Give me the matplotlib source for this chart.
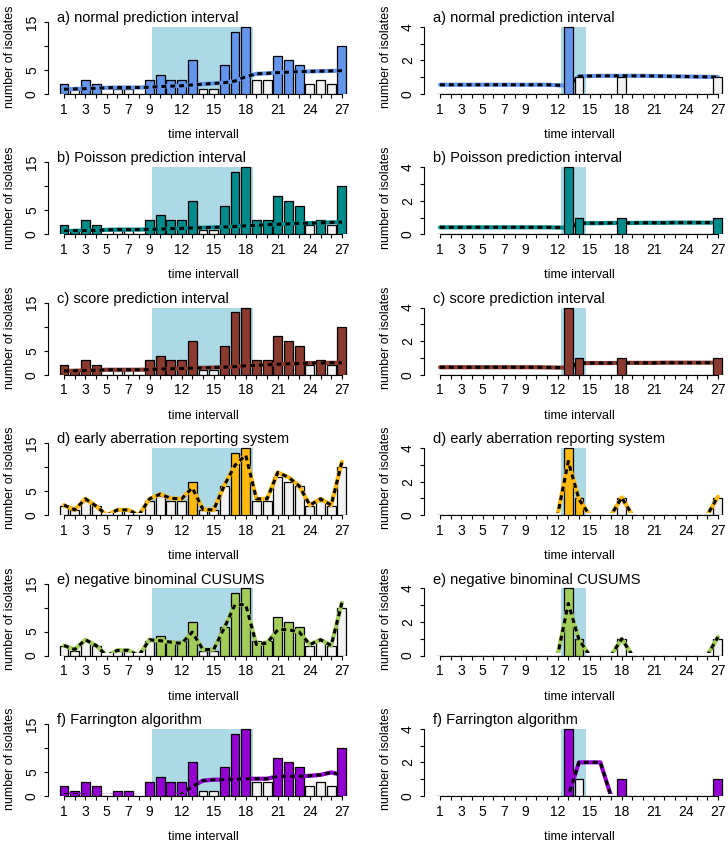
import matplotlib
matplotlib.use("Agg")
import matplotlib.pyplot as plt
from matplotlib.patches import Rectangle

plt.rcParams["font.family"] = ["Liberation Sans", "DejaVu Sans"]

W, H = 728, 843

time = list(range(1, 28))
xtick_labels = [1, 3, 5, 7, 9, 12, 15, 18, 21, 24, 27]

counts_left = [2, 1, 3, 2, 0, 1, 1, 0, 3, 4, 3, 3, 7, 1, 1, 6, 13, 14, 3, 3,
               8, 7, 6, 2, 3, 2, 10]
counts_right = [0, 0, 0, 0, 0, 0, 0, 0, 0, 0, 0, 0, 4, 1, 0, 0, 0, 1, 0, 0,
                0, 0, 0, 0, 0, 0, 1]

titles = ["a) normal prediction interval", "b) Poisson prediction interval",
          "c) score prediction interval", "d) early aberration reporting system",
          "e) negative binominal CUSUMS", "f) Farrington algorithm"]
colours = ["#6495ED", "#008B8B", "#8B3A30", "#FFB90F", "#A2CD5A", "#9400D3"]

# thresholds, left column (outbreak 1)
normal_left = [1.0, 1.05, 1.1, 1.2, 1.3, 1.35, 1.35, 1.35, 1.4, 1.55, 1.65, 1.7,
               1.9, 2.05, 2.2, 2.35, 2.7, 3.6, 4.2, 4.3, 4.45, 4.55, 4.65, 4.7,
               4.75, 4.8, 4.85]
poisson_left = [0.7, 0.75, 0.8, 0.85, 0.95, 1.0, 1.0, 1.0, 1.05, 1.1, 1.2, 1.25,
                1.35, 1.4, 1.45, 1.55, 1.65, 1.8, 1.9, 2.0, 2.1, 2.2, 2.3, 2.35,
                2.4, 2.5, 2.55]
score_left = [0.8, 0.85, 0.9, 0.95, 1.05, 1.05, 1.05, 1.05, 1.1, 1.2, 1.25, 1.3,
              1.4, 1.45, 1.5, 1.6, 1.7, 1.9, 1.95, 2.1, 2.2, 2.3, 2.35, 2.45,
              2.45, 2.5, 2.5]
ears_left = [2.1, 1.1, 3.4, 1.9, 0, 1.1, 1.1, 0, 3.4, 4.4, 3.5, 3.4, 5.7, 1.2,
             1.1, 6.2, 10.4, 12.5, 3.4, 3.4, 8.9, 7.9, 6.1, 2.1, 3.4, 2.1, 11.1]
cusum_left = [2.1, 1.25, 3.3, 2.1, 0, 1.1, 1.1, 0, 3.3, 3.1, 2.8, 2.5, 4.9, 1.25,
              1.25, 5.8, 10.6, 10.6, 2.3, 2.6, 5.4, 5.4, 4.9, 2.3, 3.3, 2.1, 11.0]
farr_left = [0.3, 0.3, 0.2, 0.1, 0, 0.1, 0.1, 0, 0, 0.1, 0, 0.4, 2.0, 3.2, 3.4,
             3.4, 3.5, 3.6, 3.6, 3.6, 4.1, 4.1, 4.1, 4.2, 4.4, 4.9, 4.4]

# thresholds, right column (outbreak 2)
normal_right = [0.55, 0.55, 0.55, 0.55, 0.55, 0.55, 0.55, 0.55, 0.55, 0.55, 0.55,
                0.52, 0.5, 1.05, 1.07, 1.08, 1.08, 1.08, 1.08, 1.08, 1.07, 1.06,
                1.05, 1.04, 1.03, 1.02, 1.01]
poisson_right = [0.42, 0.42, 0.42, 0.42, 0.42, 0.42, 0.42, 0.42, 0.42, 0.42, 0.42,
                 0.41, 0.4, 0.66, 0.67, 0.67, 0.68, 0.68, 0.68, 0.69, 0.69, 0.69,
                 0.7, 0.7, 0.7, 0.7, 0.7]
score_right = [0.45, 0.45, 0.45, 0.45, 0.45, 0.45, 0.45, 0.45, 0.45, 0.45, 0.44,
               0.43, 0.42, 0.69, 0.7, 0.7, 0.7, 0.71, 0.71, 0.71, 0.71, 0.72,
               0.72, 0.72, 0.72, 0.72, 0.72]
ears_right = [0, 0, 0, 0, 0, 0, 0, 0, 0, 0, 0, 0, 3.2, 0.95, 0, 0, 0, 1.05, 0, 0,
              0, 0, 0, 0, 0, 0, 1.1]
cusum_right = [0, 0, 0, 0, 0, 0, 0, 0, 0, 0, 0, 0, 3.1, 0.95, 0, 0, 0, 1.0, 0, 0,
               0, 0, 0, 0, 0, 0, 1.1]
farr_right = [0, 0, 0, 0, 0, 0, 0, 0, 0, 0, 0, 0, 0, 2.0, 2.0, 2.0, 0, 0, 0, 0,
              0, 0, 0, 0, 0, 0, 0]

# time points flagged as alarms (coloured bars)
alarms_left = [
    [1, 3, 4, 9, 10, 11, 12, 13, 16, 17, 18, 21, 22, 23, 27],
    [1, 2, 3, 4, 9, 10, 11, 12, 13, 16, 17, 18, 19, 20, 21, 22, 23, 25, 27],
    [1, 2, 3, 4, 9, 10, 11, 12, 13, 16, 17, 18, 19, 20, 21, 22, 23, 25, 27],
    [13, 17, 18],
    [10, 11, 12, 13, 16, 17, 18, 19, 20, 21, 22, 23],
    [1, 2, 3, 4, 6, 7, 9, 10, 11, 12, 13, 16, 17, 18, 21, 22, 23, 27],
]
alarms_right = [[13], [13, 14, 18, 27], [13, 14, 18, 27], [13, 14], [13, 14],
                [13, 18, 27]]

thr_left = [normal_left, poisson_left, score_left, ears_left, cusum_left, farr_left]
thr_right = [normal_right, poisson_right, score_right, ears_right, cusum_right,
             farr_right]

outbreak_left = (9.2, 18.7)
outbreak_right = (12.3, 14.66)

AX_W, AX_H = 311, 74


def fx(px):
    return px / W


def fy(px):
    return 1 - px / H


def panel(fig, x0, zero_y, counts, thr, alarms, colour, title, span,
          yticks, ylabs, ytop, lines_on_top=True):
    ax = fig.add_axes([fx(x0), fy(zero_y), AX_W / W, AX_H / H])
    ax.set_xlim(-0.5, 28.6)
    ax.set_ylim(0, ytop)
    top = max(counts)
    ax.fill_between(list(span), 0, top, color="#ADD8E6", lw=0, zorder=1)
    cols = [colour if t in alarms else "#F2F2F2" for t in time]
    ax.bar(time, counts, width=0.833, color=cols, edgecolor="black",
           linewidth=0.9, zorder=3)
    z = 4 if lines_on_top else 2
    # lines sitting on zero disappear under the axis, as in the original
    clip = Rectangle((0, 2.2 / AX_H), 1, 1, transform=ax.transAxes)
    l1, = ax.plot(time, thr, color=colour, lw=3.0, zorder=z,
                  solid_capstyle="round")
    l2, = ax.plot(time, thr, color="black", lw=2.2, dashes=(1.6, 1.3),
                  zorder=z + 0.1)
    l1.set_clip_path(clip)
    l2.set_clip_path(clip)

    for s in ("top", "right"):
        ax.spines[s].set_visible(False)
    ax.spines["left"].set_bounds(yticks[0], yticks[-1])
    ax.spines["bottom"].set_bounds(1, 27)
    ax.spines["left"].set_linewidth(0.8)
    ax.spines["bottom"].set_linewidth(0.8)

    ax.set_xticks(time, labels=[str(t) if t in xtick_labels else "" for t in time])
    ax.set_yticks(yticks, labels=ylabs)
    ax.tick_params(axis="x", length=3.2, width=0.8, labelsize=10, pad=3)
    ax.tick_params(axis="y", length=3.2, width=0.8, labelsize=10, pad=3.3)
    for lab in ax.get_yticklabels():
        lab.set_rotation(90)
        lab.set_va("center")

    fig.text(fx(x0 + 9), fy(zero_y - 76), title, fontsize=10.5, ha="left",
             va="center")
    fig.text(fx(x0 + 155), fy(zero_y + 41), "time intervall", fontsize=9,
             ha="center", va="center")
    fig.text(fx(x0 - 38), fy(zero_y - 37), "number of isolates", fontsize=9,
             ha="center", va="center", rotation=90)
    return ax


fig = plt.figure(figsize=(W / 100, H / 100), dpi=100)

for i in range(6):
    zero_y = 94 + 140.4 * i
    panel(fig, 48, zero_y, counts_left, thr_left[i], alarms_left[i], colours[i],
          titles[i], outbreak_left, [0, 5, 10, 15], ["0", "5", "", "15"], 15.4)
    panel(fig, 424, zero_y, counts_right, thr_right[i], alarms_right[i],
          colours[i], titles[i], outbreak_right, [0, 1, 2, 3, 4],
          ["0", "", "2", "", "4"], 4.4, lines_on_top=(i >= 3))

fig.savefig("out.png", dpi=100)
